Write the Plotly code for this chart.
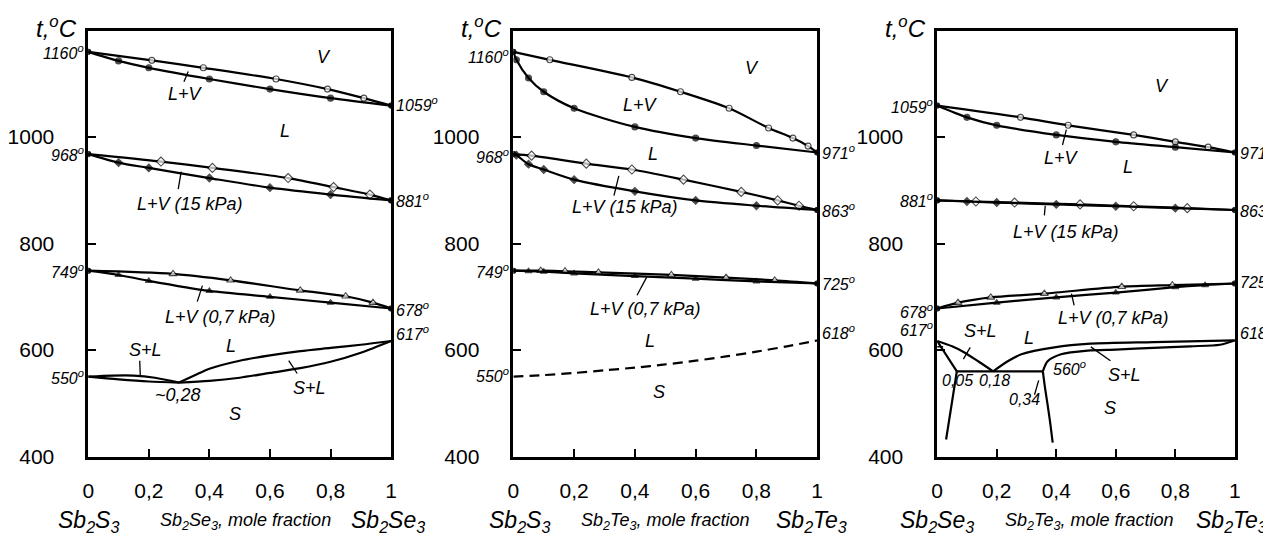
import plotly.graph_objects as go

# ---------------- Panel 1: Sb2S3 - Sb2Se3 ----------------
P1_ATM_LIQ_X = [0, 0.1, 0.2, 0.4, 0.6, 0.8, 1]
P1_ATM_LIQ_T = [1160, 1143, 1130, 1109, 1090, 1073, 1059]
P1_ATM_VAP_X = [0, 0.21, 0.38, 0.62, 0.79, 0.91, 1]
P1_ATM_VAP_T = [1160, 1144, 1130, 1109, 1090, 1073, 1059]
P1_15_LIQ_X = [0, 0.1, 0.2, 0.4, 0.6, 0.8, 1]
P1_15_LIQ_T = [968, 952, 942, 923, 905, 892, 881]
P1_15_VAP_X = [0, 0.24, 0.41, 0.66, 0.81, 0.93, 1]
P1_15_VAP_T = [968, 954, 942, 923, 906, 892, 881]
P1_07_LIQ_X = [0, 0.1, 0.2, 0.4, 0.6, 0.8, 1]
P1_07_LIQ_T = [749, 741, 730, 711, 700, 689, 678]
P1_07_VAP_X = [0, 0.28, 0.47, 0.7, 0.85, 0.94, 1]
P1_07_VAP_T = [749, 743, 731, 712, 701, 689, 678]
P1_LIQUIDUS_L_X = [0, 0.08, 0.15, 0.22, 0.3]
P1_LIQUIDUS_L_T = [550, 552, 552, 548, 539]
P1_SOLIDUS_L_X = [0, 0.1, 0.2, 0.3]
P1_SOLIDUS_L_T = [550, 545, 541, 539]
P1_LIQUIDUS_R_X = [0.3, 0.35, 0.4, 0.5, 0.6, 0.7, 0.8, 0.9, 1]
P1_LIQUIDUS_R_T = [539, 552, 565, 580, 590, 598, 604, 610, 617]
P1_SOLIDUS_R_X = [0.3, 0.4, 0.5, 0.6, 0.7, 0.8, 0.9, 1]
P1_SOLIDUS_R_T = [539, 542, 548, 557, 566, 578, 595, 617]

# ---------------- Panel 2: Sb2S3 - Sb2Te3 ----------------
P2_ATM_LIQ_X = [0, 0.01, 0.05, 0.1, 0.2, 0.4, 0.6, 0.8, 1]
P2_ATM_LIQ_T = [1160, 1145, 1111, 1085, 1054, 1019, 998, 984, 971]
P2_ATM_VAP_X = [0, 0.12, 0.39, 0.55, 0.71, 0.84, 0.92, 0.97, 1]
P2_ATM_VAP_T = [1160, 1145, 1112, 1085, 1054, 1017, 998, 983, 971]
P2_15_LIQ_X = [0, 0.01, 0.05, 0.1, 0.2, 0.4, 0.6, 0.8, 1]
P2_15_LIQ_T = [968, 966, 949, 939, 920, 898, 881, 871, 863]
P2_15_VAP_X = [0, 0.06, 0.24, 0.39, 0.56, 0.75, 0.87, 0.94, 1]
P2_15_VAP_T = [968, 965, 950, 939, 920, 897, 881, 871, 863]
P2_07_LIQ_X = [0, 0.05, 0.1, 0.2, 0.4, 0.6, 0.8, 1]
P2_07_LIQ_T = [749, 748, 747, 744, 739, 734, 729, 725]
P2_07_VAP_X = [0, 0.09, 0.17, 0.28, 0.52, 0.7, 0.86, 1]
P2_07_VAP_T = [749, 749, 748, 746, 741, 736, 731, 725]
P2_SOLID_X = [0, 0.1, 0.2, 0.3, 0.4, 0.5, 0.6, 0.7, 0.8, 0.9, 1]
P2_SOLID_T = [550, 553, 557, 562, 567, 573, 580, 588, 597, 607, 618]

# ---------------- Panel 3: Sb2Se3 - Sb2Te3 ----------------
P3_ATM_LIQ_X = [0, 0.1, 0.2, 0.4, 0.6, 0.8, 1]
P3_ATM_LIQ_T = [1059, 1037, 1022, 1004, 991, 981, 971]
P3_ATM_VAP_X = [0, 0.28, 0.44, 0.66, 0.8, 0.91, 1]
P3_ATM_VAP_T = [1059, 1037, 1022, 1004, 991, 981, 971]
P3_15_LIQ_X = [0, 0.1, 0.2, 0.4, 0.6, 0.8, 1]
P3_15_LIQ_T = [881, 879, 877, 873.5, 870, 866.5, 863]
P3_15_VAP_X = [0, 0.13, 0.26, 0.48, 0.66, 0.84, 1]
P3_15_VAP_T = [881, 879, 877, 873.5, 870, 866.5, 863]
P3_07_LIQ_X = [0, 0.2, 0.4, 0.6, 0.8, 0.9, 1]
P3_07_LIQ_T = [678, 689, 699, 708, 718, 722, 725]
P3_07_VAP_X = [0, 0.07, 0.18, 0.36, 0.62, 0.79, 1]
P3_07_VAP_T = [678, 689, 699, 706, 719, 722, 725]
P3_LIQUIDUS_L_X = [0, 0.05, 0.09, 0.14, 0.188]
P3_LIQUIDUS_L_T = [617, 607, 596, 578, 560]
P3_SOLIDUS_L_X = [0, 0.066]
P3_SOLIDUS_L_T = [617, 560]
P3_EUTECTIC_X = [0.066, 0.355]
P3_EUTECTIC_T = [560, 560]
P3_SOLVUS_L_X = [0.066, 0.03]
P3_SOLVUS_L_T = [560, 432]
P3_SOLVUS_R_X = [0.355, 0.362, 0.371, 0.38, 0.388]
P3_SOLVUS_R_T = [560, 530, 497, 462, 426]
P3_LIQUIDUS_R_X = [0.188, 0.237, 0.283, 0.394, 0.515, 0.726, 1]
P3_LIQUIDUS_R_T = [560, 579, 592, 605, 612, 615, 618]
P3_SOLIDUS_R_X = [0.355, 0.371, 0.416, 0.505, 0.6, 0.726, 0.85, 0.95, 1]
P3_SOLIDUS_R_T = [560, 579, 592, 599, 601, 604, 607, 610, 618]
P3_MARK_X = [0, 0.02]
P3_MARK_T = [606, 606]

# ---------------- Axis ticks ----------------
X_TICKS = [0, 0.2, 0.4, 0.6, 0.8, 1]
X_TICKTEXT = ["0", "0,2", "0,4", "0,6", "0,8", "1"]
Y_TICKS = [400, 600, 800, 1000]
Y_TICKTEXT = ["400", "600", "800", "1000"]

# ---------------- Labels ----------------
# (panel, x, T, text)
REGION_LABELS = [
    (1, 0.78, 1150, "V"), (1, 0.32, 1080, "L+V"), (1, 0.65, 1012, "L"),
    (1, 0.337, 874, "L+V (15 kPa)"), (1, 0.438, 663, "L+V (0,7 kPa)"),
    (1, 0.47, 608, "L"), (1, 0.19, 601, "S+L"), (1, 0.731, 529, "S+L"),
    (1, 0.297, 516, "~0,28"), (1, 0.483, 479, "S"),
    (2, 0.787, 1129, "V"), (2, 0.418, 1061, "L+V"), (2, 0.461, 968, "L"),
    (2, 0.369, 868, "L+V (15 kPa)"), (2, 0.434, 678, "L+V (0,7 kPa)"),
    (2, 0.45, 617, "L"), (2, 0.48, 522, "S"),
    (3, 0.754, 1095, "V"), (3, 0.416, 960, "L+V"), (3, 0.64, 944, "L"),
    (3, 0.432, 822, "L+V (15 kPa)"), (3, 0.593, 660, "L+V (0,7 kPa)"),
    (3, 0.147, 635, "S+L"), (3, 0.31, 623, "L"), (3, 0.629, 553, "S+L"),
    (3, 0.582, 491, "S"),
]
SMALL_LABELS = [
    (3, 0.443, 566, "560<sup>o</sup>"), (3, 0.067, 542, "0,05"),
    (3, 0.194, 542, "0,18"), (3, 0.294, 508, "0,34"),
]
# (panel, x0, T0, x1, T1)
LEADERS = [
    (1, 0.316, 1104, 0.33, 1123), (1, 0.297, 902, 0.307, 935),
    (1, 0.36, 691, 0.377, 721), (1, 0.17, 580, 0.172, 550),
    (1, 0.662, 580, 0.69, 556),
    (2, 0.331, 890, 0.347, 927), (2, 0.407, 703, 0.439, 737),
    (3, 0.421, 985, 0.434, 1014), (3, 0.36, 853, 0.363, 871),
    (3, 0.46, 684, 0.451, 706), (3, 0.088, 583, 0.111, 605),
    (3, 0.516, 606, 0.582, 580), (3, 0.327, 516, 0.341, 543),
]
# (panel, side, T, text, yshift)
END_LABELS = [
    (1, "L", 1160, "1160", 0), (1, "L", 968, "968", 0), (1, "L", 749, "749", 0), (1, "L", 550, "550", 0),
    (1, "R", 1059, "1059", 2), (1, "R", 881, "881", 0), (1, "R", 678, "678", 0), (1, "R", 617, "617", 8),
    (2, "L", 1160, "1160", -4), (2, "L", 968, "968", -2), (2, "L", 749, "749", 0), (2, "L", 550, "550", 2),
    (2, "R", 971, "971", 0), (2, "R", 863, "863", 0), (2, "R", 725, "725", 0), (2, "R", 618, "618", 8),
    (3, "L", 1059, "1059", 0), (3, "L", 881, "881", 0), (3, "L", 678, "678", -2), (3, "L", 617, "617", 12),
    (3, "R", 971, "971", 0), (3, "R", 863, "863", 0), (3, "R", 725, "725", 2), (3, "R", 618, "618", 8),
]
BOTTOM_LABELS = [
    (1, 0.0, "Sb<sub>2</sub>S<sub>3</sub>", 23), (1, 0.52, "Sb<sub>2</sub>Se<sub>3</sub>, mole fraction", 18),
    (1, 0.99, "Sb<sub>2</sub>Se<sub>3</sub>", 23),
    (2, 0.02, "Sb<sub>2</sub>S<sub>3</sub>", 23), (2, 0.50, "Sb<sub>2</sub>Te<sub>3</sub>, mole fraction", 18),
    (2, 0.98, "Sb<sub>2</sub>Te<sub>3</sub>", 23),
    (3, 0.0, "Sb<sub>2</sub>Se<sub>3</sub>", 23), (3, 0.51, "Sb<sub>2</sub>Te<sub>3</sub>, mole fraction", 18),
    (3, 0.99, "Sb<sub>2</sub>Te<sub>3</sub>", 23),
]

FONT = "Liberation Sans, Arial, sans-serif"
W, H = 1271, 534
X_DOMAINS = [(74 / W, 380 / W), (503.5 / W, 810.5 / W), (931.7 / W, 1232.5 / W)]
Y_DOMAIN = (1 - 458 / H, 1 - 23 / H)

fig = go.Figure()


def axref(p):
    return ("x", "y") if p == 1 else (f"x{p}", f"y{p}")


def vle(p, xs, ts, sym, filled, msize):
    xa, ya = axref(p)
    n = len(xs)
    symbols, colors, sizes = [], [], []
    for i in range(n):
        if i == 0 or i == n - 1:
            symbols.append("circle"); colors.append("black"); sizes.append(5)
        else:
            symbols.append(sym); colors.append("black" if filled else "white"); sizes.append(msize)
    fig.add_trace(go.Scatter(
        x=xs, y=ts, xaxis=xa, yaxis=ya, mode="lines+markers",
        line=dict(color="black", width=2.2, shape="spline", smoothing=0.8),
        marker=dict(symbol=symbols, color=colors, size=sizes, line=dict(color="black", width=1.1)),
        showlegend=False, hoverinfo="skip"))


def curve(p, xs, ts, dash="solid", shape="spline", width=2.2):
    xa, ya = axref(p)
    fig.add_trace(go.Scatter(
        x=xs, y=ts, xaxis=xa, yaxis=ya, mode="lines",
        line=dict(color="black", width=width, shape=shape, smoothing=0.8, dash=dash),
        showlegend=False, hoverinfo="skip"))


# Panel 1
vle(1, P1_ATM_VAP_X, P1_ATM_VAP_T, "circle", False, 6)
vle(1, P1_ATM_LIQ_X, P1_ATM_LIQ_T, "circle", True, 6)
vle(1, P1_15_VAP_X, P1_15_VAP_T, "diamond", False, 7)
vle(1, P1_15_LIQ_X, P1_15_LIQ_T, "diamond", True, 6)
vle(1, P1_07_VAP_X, P1_07_VAP_T, "triangle-up", False, 7)
vle(1, P1_07_LIQ_X, P1_07_LIQ_T, "triangle-up", True, 6)
curve(1, P1_LIQUIDUS_L_X, P1_LIQUIDUS_L_T)
curve(1, P1_SOLIDUS_L_X, P1_SOLIDUS_L_T)
curve(1, P1_LIQUIDUS_R_X, P1_LIQUIDUS_R_T)
curve(1, P1_SOLIDUS_R_X, P1_SOLIDUS_R_T)

# Panel 2
vle(2, P2_ATM_VAP_X, P2_ATM_VAP_T, "circle", False, 6)
vle(2, P2_ATM_LIQ_X, P2_ATM_LIQ_T, "circle", True, 6)
vle(2, P2_15_VAP_X, P2_15_VAP_T, "diamond", False, 7)
vle(2, P2_15_LIQ_X, P2_15_LIQ_T, "diamond", True, 6)
vle(2, P2_07_VAP_X, P2_07_VAP_T, "triangle-up", False, 7)
vle(2, P2_07_LIQ_X, P2_07_LIQ_T, "triangle-up", True, 6)
curve(2, P2_SOLID_X, P2_SOLID_T, dash="10px,6px")

# Panel 3
vle(3, P3_ATM_VAP_X, P3_ATM_VAP_T, "circle", False, 6)
vle(3, P3_ATM_LIQ_X, P3_ATM_LIQ_T, "circle", True, 6)
vle(3, P3_15_VAP_X, P3_15_VAP_T, "diamond", False, 7)
vle(3, P3_15_LIQ_X, P3_15_LIQ_T, "diamond", True, 6)
vle(3, P3_07_VAP_X, P3_07_VAP_T, "triangle-up", False, 7)
vle(3, P3_07_LIQ_X, P3_07_LIQ_T, "triangle-up", True, 6)
curve(3, P3_LIQUIDUS_L_X, P3_LIQUIDUS_L_T)
curve(3, P3_SOLIDUS_L_X, P3_SOLIDUS_L_T, shape="linear")
curve(3, P3_EUTECTIC_X, P3_EUTECTIC_T, shape="linear")
curve(3, P3_SOLVUS_L_X, P3_SOLVUS_L_T, shape="linear")
curve(3, P3_SOLVUS_R_X, P3_SOLVUS_R_T)
curve(3, P3_LIQUIDUS_R_X, P3_LIQUIDUS_R_T)
curve(3, P3_SOLIDUS_R_X, P3_SOLIDUS_R_T)
curve(3, P3_MARK_X, P3_MARK_T, shape="linear", width=1.5)

annotations = []
shapes = []
for p, x, t, txt in REGION_LABELS:
    xa, ya = axref(p)
    annotations.append(dict(x=x, y=t, xref=xa, yref=ya, text=f"<i>{txt}</i>", showarrow=False,
                            font=dict(family=FONT, size=18, color="black")))
for p, x, t, txt in SMALL_LABELS:
    xa, ya = axref(p)
    annotations.append(dict(x=x, y=t, xref=xa, yref=ya, text=f"<i>{txt}</i>", showarrow=False,
                            font=dict(family=FONT, size=16, color="black")))
for p, x0, t0, x1, t1 in LEADERS:
    xa, ya = axref(p)
    shapes.append(dict(type="line", xref=xa, yref=ya, x0=x0, y0=t0, x1=x1, y1=t1,
                       line=dict(color="black", width=1.3)))
for p, side, t, txt, ys in END_LABELS:
    xa, ya = axref(p)
    annotations.append(dict(x=0 if side == "L" else 1, y=t, xref=xa, yref=ya,
                            text=f"<i>{txt}<sup>o</sup></i>", showarrow=False,
                            xanchor="right" if side == "L" else "left",
                            xshift=-2 if side == "L" else 3, yshift=ys,
                            font=dict(family=FONT, size=16, color="black")))
for p, x, txt, size in BOTTOM_LABELS:
    xa, _ = axref(p)
    annotations.append(dict(x=x, y=1 - 524 / H, xref=xa, yref="paper", text=f"<i>{txt}</i>",
                            showarrow=False, yanchor="middle",
                            font=dict(family=FONT, size=size, color="black")))
for p in (1, 2, 3):
    annotations.append(dict(x=X_DOMAINS[p - 1][0], y=1 - 19 / H, xref="paper", yref="paper",
                            text="<i>t,<sup>o</sup>C</i>", showarrow=False, xanchor="right",
                            xshift=-9, yanchor="middle",
                            font=dict(family=FONT, size=24, color="black")))

layout = dict(
    width=W, height=H, margin=dict(l=0, r=0, t=0, b=0),
    paper_bgcolor="white", plot_bgcolor="white",
    annotations=annotations, shapes=shapes, showlegend=False,
)
for p in (1, 2, 3):
    xk = "xaxis" if p == 1 else f"xaxis{p}"
    yk = "yaxis" if p == 1 else f"yaxis{p}"
    xa, ya = axref(p)
    layout[xk] = dict(domain=list(X_DOMAINS[p - 1]), range=[0, 1], anchor=ya,
                      showgrid=False, zeroline=False, showline=True, mirror=True,
                      linecolor="black", linewidth=2.5, ticks="inside", ticklen=8, tickwidth=2,
                      tickcolor="black", tickvals=X_TICKS, ticktext=X_TICKTEXT,
                      ticklabelstandoff=13,
                      tickfont=dict(family=FONT, size=21, color="black"))
    layout[yk] = dict(domain=list(Y_DOMAIN), range=[400, 1200], anchor=xa,
                      showgrid=False, zeroline=False, showline=True, mirror=True,
                      linecolor="black", linewidth=2.5, ticks="inside", ticklen=8, tickwidth=2,
                      tickcolor="black", tickvals=Y_TICKS, ticktext=Y_TICKTEXT,
                      ticklabelstandoff=27,
                      tickfont=dict(family=FONT, size=21, color="black"))

fig.update_layout(**layout)
fig.write_html("out.html")
